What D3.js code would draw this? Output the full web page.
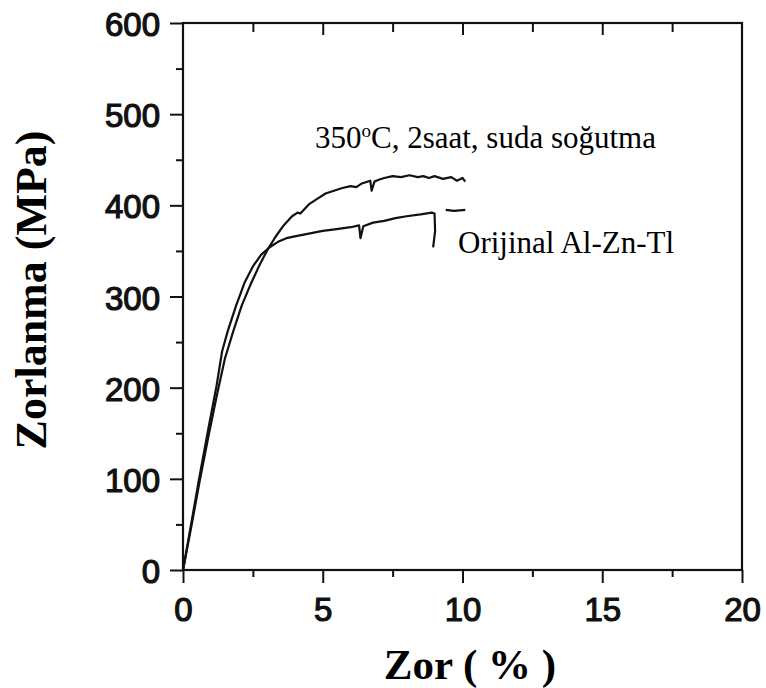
<!DOCTYPE html>
<html>
<head>
<meta charset="utf-8">
<script src="https://cdn.jsdelivr.net/npm/d3@7"></script>
<style>
  body { margin: 0; background: #fff; }
  svg { display: block; }
</style>
</head>
<body>
<svg id="chart" width="766" height="688"></svg>
<script>
// strain (%) / stress (MPa)
const heatStrain = [0, 0.3, 0.6, 0.9, 1.2, 1.5, 1.8, 2.1, 2.4, 2.7, 3.0, 3.3, 3.6, 3.9, 4.1, 4.2, 4.5, 4.8, 5.1, 5.4, 5.7, 6.0, 6.2, 6.4, 6.7, 6.75, 6.85, 7.0, 7.2, 7.5, 7.8, 8.1, 8.4, 8.6, 8.8, 9.0, 9.3, 9.6, 9.8, 10.0, 10.1]
const heatStress = [0, 48, 98, 145, 190, 232, 262, 290, 312, 332, 350, 365, 378, 388, 392, 391, 401, 407, 413, 416, 419, 421, 420, 424, 427, 416, 426, 428, 430, 432, 431, 433, 431, 432, 430, 432, 429, 431, 427, 430, 426]

const origStrain = [0, 0.3, 0.6, 0.9, 1.2, 1.4, 1.6, 1.9, 2.2, 2.5, 2.8, 3.1, 3.4, 3.7, 4.0, 4.5, 5.0, 5.5, 6.0, 6.3, 6.35, 6.45, 6.8, 7.2, 7.6, 8.0, 8.5, 8.9, 9.0, 9.02, 8.95, 9.3, 9.4, 9.7, 10.1]
const origStress = [0, 52, 104, 154, 202, 240, 262, 290, 315, 333, 346, 354, 360, 364, 366, 369, 372, 374, 376, 378, 364, 377, 381, 383, 386, 388, 390, 392, 391, 372, 354, null, 395, 394, 395]

// faint dotted elastic guide near the origin
const guideStrain = [0.08, 0.55]
const guideStress = [8, 100]

const xTicks = [0, 5, 10, 15, 20]
const xMinor = [2.5, 7.5, 12.5, 17.5]
const yTicks = [0, 100, 200, 300, 400, 500, 600]
const yMinor = [50, 150, 250, 350, 450, 550]

const heatLabel = '350'
const heatLabelRest = 'C, 2saat, suda soğutma'
const origLabel = 'Orijinal Al-Zn-Tl'
const xTitle = 'Zor ( % )'
const yTitle = 'Zorlanma (MPa)'

const svg = d3.select('#chart')

const x = d3.scaleLinear().domain([0, 20]).range([183, 742])
const y = d3.scaleLinear().domain([0, 600]).range([570, 23])

const toPoints = (xs, ys) => xs.map((v, i) => ({ x: v, y: ys[i] }))

const line = d3.line()
    .defined(d => d.y != null)
    .x(d => x(d.x))
    .y(d => y(d.y))

const tickFont = (sel) => sel.selectAll('text')
    .style('font-family', '"Liberation Sans", Arial, sans-serif')
    .style('font-size', '33px')
    .style('fill', '#111')
    .style('stroke', '#111')
    .style('stroke-width', '1.2px')

const axisStyle = (sel) => {
    sel.select('.domain').remove()
    sel.selectAll('.tick line').attr('stroke', '#111').attr('stroke-width', 2)
}

// left axis, ticks outward
svg.append('g')
    .attr('transform', `translate(${x(0)},2)`)
    .call(d3.axisLeft(y).tickValues(yTicks).tickSize(13).tickPadding(10))
    .call(axisStyle)
    .call(g => g.selectAll('.tick line').attr('transform', 'translate(0,-2)'))
    .call(tickFont)
svg.append('g')
    .attr('transform', `translate(${x(0)},0)`)
    .call(d3.axisLeft(y).tickValues(yMinor).tickSize(7).tickFormat(''))
    .call(axisStyle)

// bottom axis
svg.append('g')
    .attr('transform', `translate(0,${y(0)})`)
    .call(d3.axisBottom(x).tickValues(xTicks).tickSize(13).tickPadding(15))
    .call(axisStyle)
    .call(tickFont)
svg.append('g')
    .attr('transform', `translate(0,${y(0)})`)
    .call(d3.axisBottom(x).tickValues(xMinor).tickSize(7).tickFormat(''))
    .call(axisStyle)

// top axis, ticks pointing inward
svg.append('g')
    .attr('transform', `translate(0,${y(600)})`)
    .call(d3.axisTop(x).tickValues(xTicks.slice(1, -1)).tickSize(-12).tickFormat(''))
    .call(axisStyle)
svg.append('g')
    .attr('transform', `translate(0,${y(600)})`)
    .call(d3.axisTop(x).tickValues(xMinor).tickSize(-9).tickFormat(''))
    .call(axisStyle)

// frame
svg.append('rect')
    .attr('x', x(0))
    .attr('y', y(600))
    .attr('width', x(20) - x(0))
    .attr('height', y(0) - y(600))
    .attr('fill', 'none')
    .attr('stroke', '#111')
    .attr('stroke-width', 2.2)

// curves
svg.append('path')
    .datum(toPoints(guideStrain, guideStress))
    .attr('d', line)
    .attr('fill', 'none')
    .attr('stroke', '#888')
    .attr('stroke-width', 1.2)
    .attr('stroke-dasharray', '1.5 2')

svg.append('path')
    .datum(toPoints(heatStrain, heatStress))
    .attr('d', line)
    .attr('fill', 'none')
    .attr('stroke', '#111')
    .attr('stroke-width', 2.2)
    .attr('stroke-linejoin', 'round')

svg.append('path')
    .datum(toPoints(origStrain, origStress))
    .attr('d', line)
    .attr('fill', 'none')
    .attr('stroke', '#111')
    .attr('stroke-width', 2.2)
    .attr('stroke-linejoin', 'round')

// curve labels
const serif = '"Liberation Serif", "Times New Roman", serif'

const heat = svg.append('text')
    .attr('x', 315)
    .attr('y', 148)
    .style('font-family', serif)
    .style('font-size', '31px')
    .style('fill', '#000')
heat.append('tspan').text(heatLabel)
heat.append('tspan').text('o')
    .attr('dy', -11)
    .style('font-size', '19px')
heat.append('tspan').text(heatLabelRest)
    .attr('dy', 11)

svg.append('text')
    .attr('x', 458)
    .attr('y', 253)
    .style('font-family', serif)
    .style('font-size', '31px')
    .style('fill', '#000')
    .text(origLabel)

// axis titles
svg.append('text')
    .attr('x', 470)
    .attr('y', 679)
    .attr('text-anchor', 'middle')
    .style('font-family', serif)
    .style('font-weight', 'bold')
    .style('font-size', '43px')
    .text(xTitle)

svg.append('text')
    .attr('transform', 'translate(46,290) rotate(-90)')
    .attr('text-anchor', 'middle')
    .style('font-family', serif)
    .style('font-weight', 'bold')
    .style('font-size', '44px')
    .text(yTitle)
</script>
</body>
</html>
